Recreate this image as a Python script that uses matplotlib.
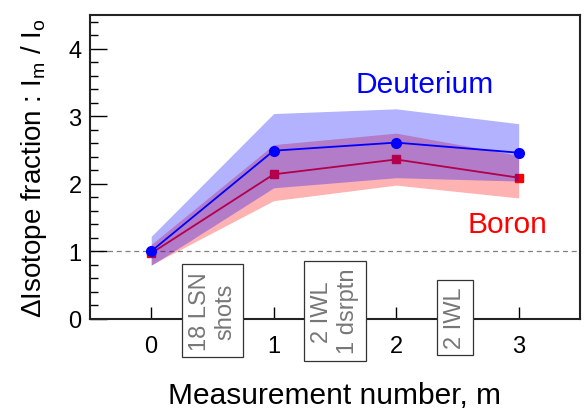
import matplotlib
matplotlib.use('Agg')
import matplotlib.pyplot as plt
import numpy as np

plt.rcParams['font.family'] = ['Liberation Sans', 'DejaVu Sans']

m = [0, 1, 2, 3]

# deuterium
d_val = [1.0, 2.49, 2.61, 2.46]
d_lo = [0.79, 1.94, 2.09, 2.04]
d_hi = [1.22, 3.04, 3.11, 2.89]

# boron
b_val = [0.97, 2.14, 2.36, 2.09]
b_lo = [0.80, 1.75, 1.98, 1.79]
b_hi = [1.10, 2.58, 2.75, 2.42]

notes = ['18 LSN\nshots', '2 IWL\n1 dsrptn', '2 IWL']
note_x = [0.5, 1.5, 2.48]
note_y = [0.12, 0.12, 0.02]

fig = plt.figure(figsize=(5.84, 4.10), dpi=100)
ax = fig.add_axes([0.154, 0.22, 0.839, 0.741])

ax.axhline(1, color='gray', ls='--', lw=0.9, dashes=(4, 3), zorder=1)

ax.fill_between(m, b_lo, b_hi, color='red', alpha=0.3, lw=0, zorder=2)
ax.plot(m, b_val, '-s', color='red', ms=6, lw=1.3, zorder=3)
ax.fill_between(m, d_lo, d_hi, color='blue', alpha=0.3, lw=0, zorder=4)
ax.plot(m, d_val, '-o', color='blue', ms=7, lw=1.3, zorder=5)

ax.text(2.23, 3.48, 'Deuterium', color='blue', fontsize=21.5, ha='center', va='center')
ax.text(2.91, 1.41, 'Boron', color='red', fontsize=21.5, ha='center', va='center')

for x, y, t in zip(note_x, note_y, notes):
    ax.text(x, y, t, rotation=90, color='#777777', fontsize=17, ha='center', va='center',
            multialignment='center', linespacing=1.2,
            bbox=dict(boxstyle='square,pad=0.3', fc='white', ec='#333333', lw=0.9), zorder=6)

ax.set_xlim(-0.5, 3.5)
ax.set_ylim(0, 4.5)
ax.set_xticks(m)
ax.set_yticks([0, 1, 2, 3, 4])
ax.set_yticks(np.arange(0, 4.5, 0.2), minor=True)
ax.tick_params(axis='both', which='major', direction='in', labelsize=17, width=1)
ax.tick_params(axis='y', which='major', length=12, pad=6)
ax.tick_params(axis='y', which='minor', direction='in', length=6, width=1)
ax.tick_params(axis='x', which='major', length=9, pad=12)
ax.tick_params(axis='x', which='minor', bottom=False)
for s in ax.spines.values():
    s.set_linewidth(1.5)
    s.set_color('#222222')

ax.set_xlabel('Measurement number, m', fontsize=21.5, labelpad=17)
ax.set_ylabel('ΔIsotope fraction : I$_\\mathregular{m}$ / I$_\\mathregular{o}$', fontsize=20, labelpad=14)

fig.savefig('out.png', dpi=100)
